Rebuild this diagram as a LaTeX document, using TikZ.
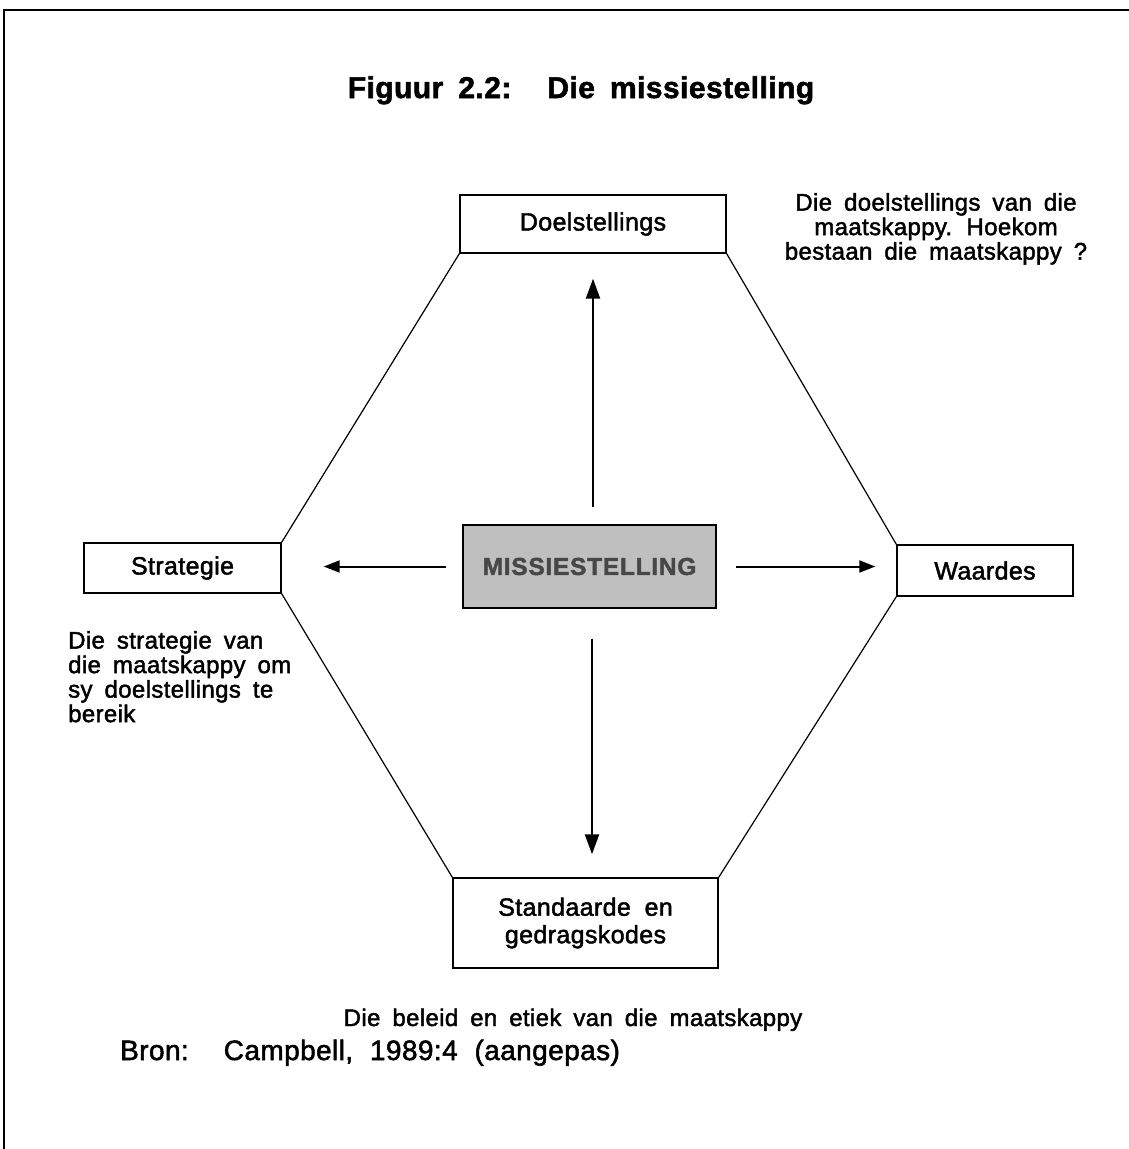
\documentclass[tikz,border=0pt]{standalone}
\usepackage{fontspec}
\setmainfont{Liberation Sans}[LetterSpace=1.5, FakeBold=1.8]
\usetikzlibrary{arrows.meta}
\newcommand\widespaces[1]{\spaceskip=#1em\relax}
\begin{document}
\begin{tikzpicture}[x=1pt,y=-1pt,
  box/.style={draw, line width=1.4pt, inner sep=0, fill=white},
  lbl/.style={font=\fontsize{25}{27.5}\selectfont\widespaces{0.55}, align=center},
  note/.style={font=\fontsize{24}{24.5}\selectfont\widespaces{0.5}, inner sep=0},
  arr/.style={line width=2.3pt, -{Triangle[length=20pt,width=14pt]}},
  harr/.style={line width=2pt, -{Triangle[length=16pt,width=12pt]}},
  hexline/.style={line width=1.2pt}]
\useasboundingbox (0,0) rectangle (1129,1149);
% page frame (top and left rule)
\draw[line width=1.5pt] (4,1149) -- (4,10) -- (1129,10);

% title
\node[anchor=base, inner sep=0, font=\fontsize{30}{32}\selectfont\bfseries\widespaces{0.5}] (title) at (581,98)
  {Figuur 2.2:\hspace{1.2em}Die missiestelling};

% the five boxes
\node[box, lbl, minimum width=266pt, minimum height=58pt] (doel) at (593,224) {Doelstellings};
\node[box, lbl, minimum width=197pt, minimum height=50pt] (strat) at (182.5,568) {Strategie};
\node[box, lbl, minimum width=176pt, minimum height=51pt] (waard) at (985,570.5) {Waardes};
\node[box, lbl, minimum width=265pt, minimum height=90pt] (stand) at (585.5,923) {Standaarde en\\gedragskodes};
\node[box, lbl, fill=black!25, text=black!72, minimum width=253pt, minimum height=83pt,
      font=\fontsize{24.5}{27}\selectfont\bfseries\addfontfeatures{LetterSpace=3}] (mis) at (589.5,566.5) {MISSIESTELLING};

% hexagon outline joining the outer boxes
\draw[hexline] (doel.south west) -- (strat.north east);
\draw[hexline] (doel.south east) -- (waard.north west);
\draw[hexline] (strat.south east) -- (stand.north west);
\draw[hexline] (waard.south west) -- (stand.north east);

% arrows out of the mission statement
\draw[arr, shorten <=17pt, shorten >=25pt] (mis.north -| doel.south) -- (doel.south);
\draw[arr, shorten <=30pt, shorten >=23pt] ([xshift=2.5pt]mis.south) -- ([xshift=2.5pt]mis.south |- stand.north);
\draw[harr, shorten <=16pt, shorten >=42pt] (mis.west) -- (mis.west -| strat.east);
\draw[harr, shorten <=19pt, shorten >=21pt] (mis.east) -- (mis.east -| waard.west);

% explanatory notes
\node[note, align=center, anchor=north] (goalnote) at (936,193)
  {Die doelstellings van die\\maatskappy. Hoekom\\bestaan die maatskappy ?};
\node[note, align=left, anchor=north west] (stratnote) at (68,631)
  {Die strategie van\\die maatskappy om\\sy doelstellings te\\bereik};
\node[note, anchor=base] (standnote) at (573,1026) {Die beleid en etiek van die maatskappy};

% source
\node[anchor=base west, inner sep=0, font=\fontsize{28}{30}\selectfont\widespaces{0.6}] (bron) at (120,1060)
  {Bron:\hspace{1.25em}Campbell, 1989:4 (aangepas)};
\end{tikzpicture}
\end{document}
